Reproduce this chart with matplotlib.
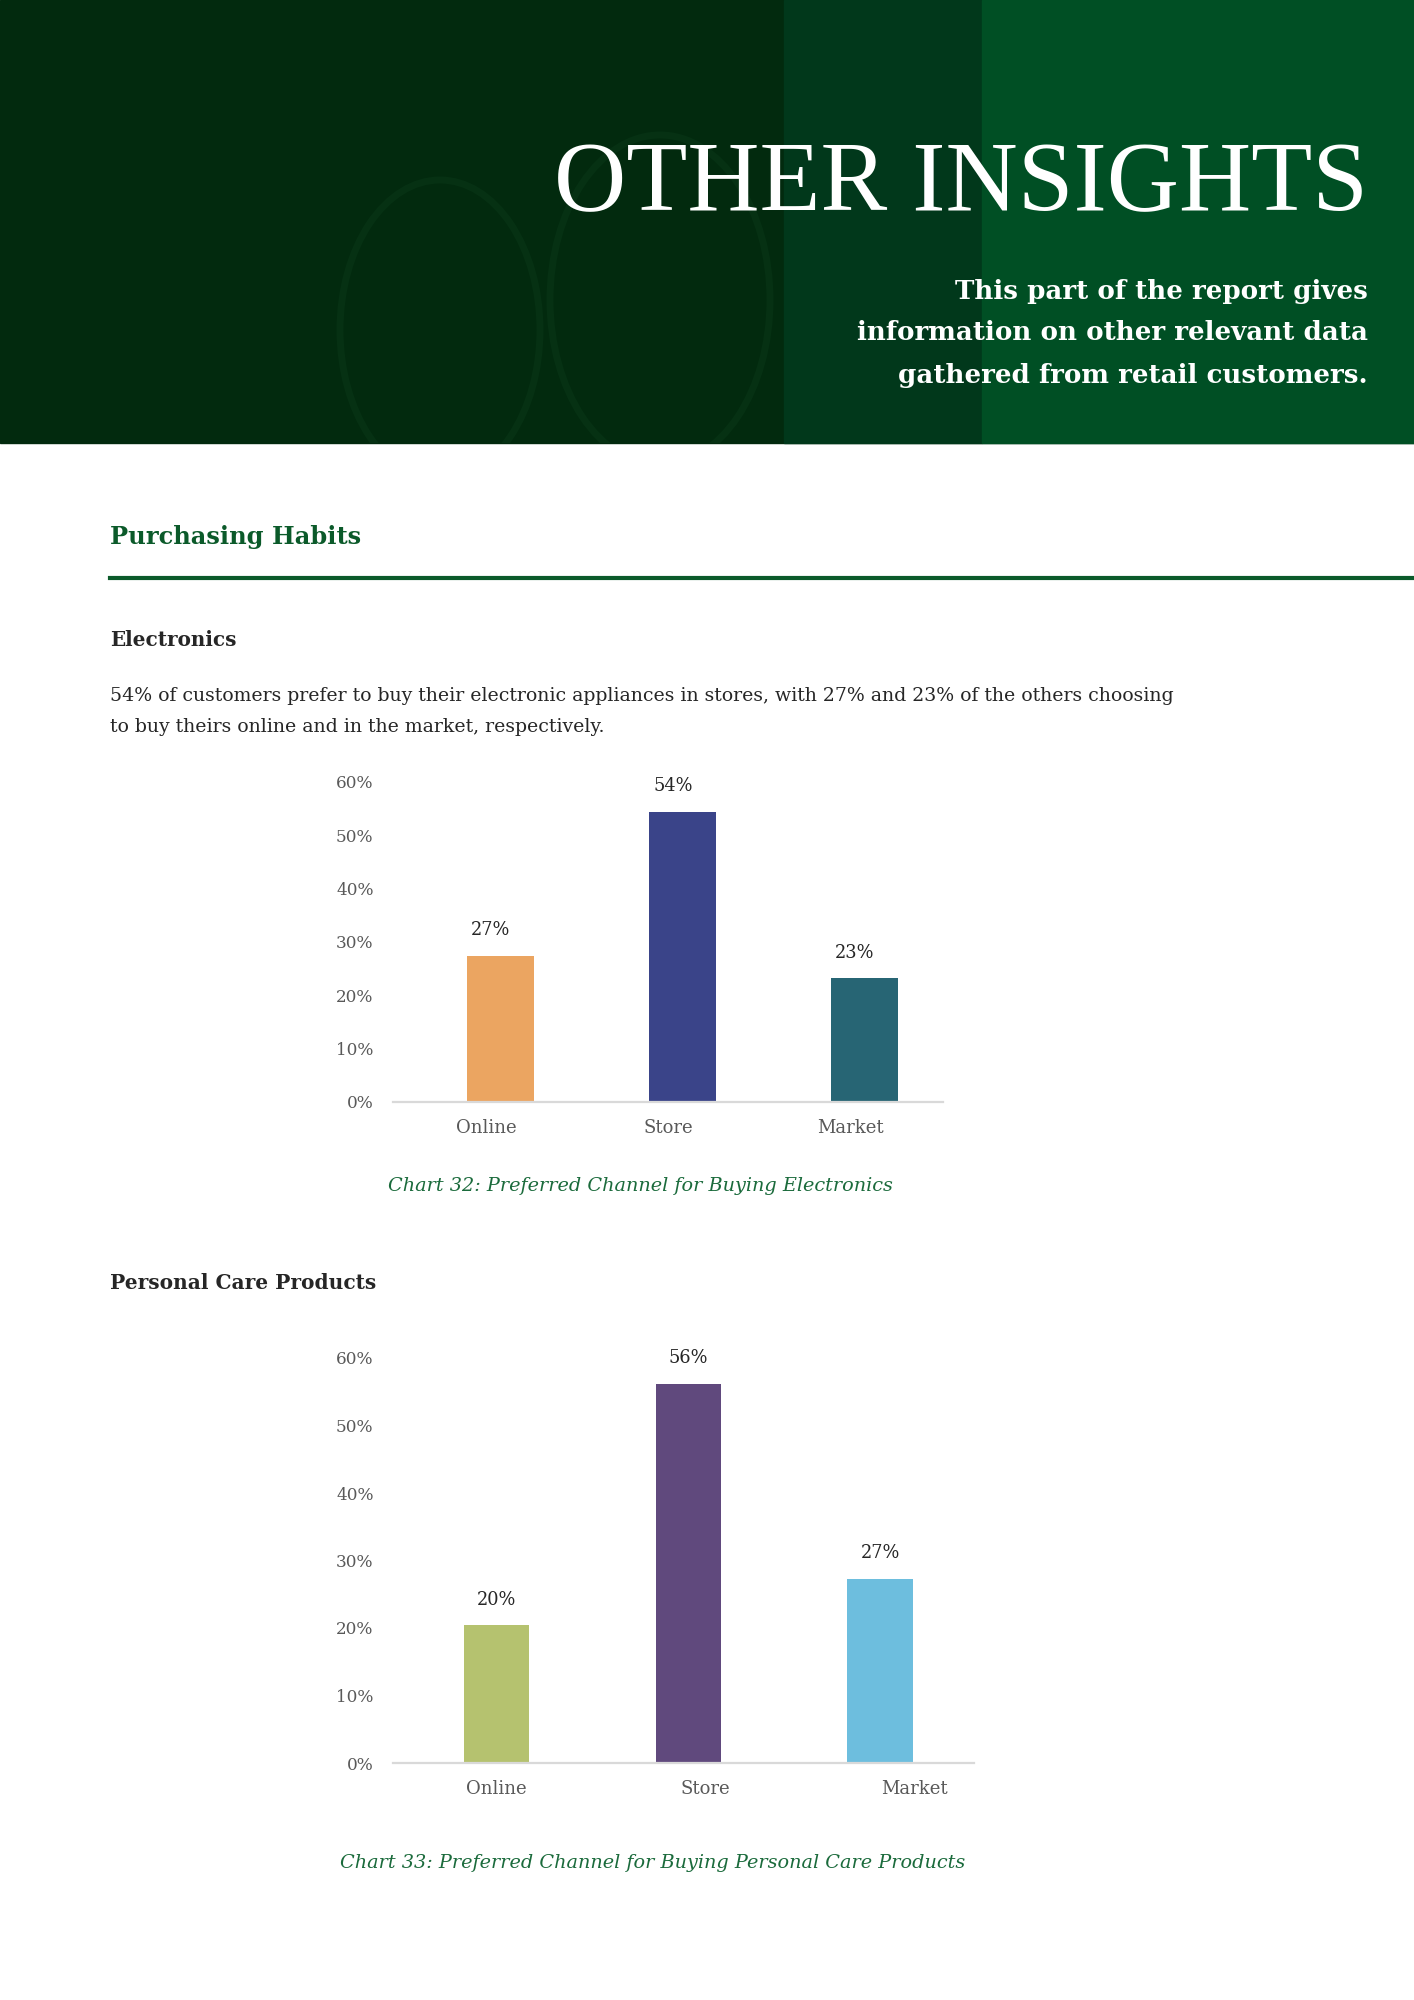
"""Report page: 'Other Insights' – preferred purchasing channels (charts 32 & 33)."""
import matplotlib
matplotlib.use("Agg")
import matplotlib.pyplot as plt
from matplotlib.patches import Rectangle, Ellipse
import numpy as np

W, H = 1414, 2000

# ---- data ----
channels = ["Online", "Store", "Market"]
electronics_pct = [27.4, 54.4, 23.2]
electronics_colors = ["#EBA561", "#3A4489", "#276574"]
personal_care_pct = [20.4, 56.2, 27.3]
personal_care_colors = ["#B5C26F", "#60497D", "#6DBEDE"]
y_ticks = [0, 10, 20, 30, 40, 50, 60]

title = "OTHER INSIGHTS"
subtitle = ["This part of the report gives",
            "information on other relevant data",
            "gathered from retail customers."]
section = "Purchasing Habits"
para = ["54% of customers prefer to buy their electronic appliances in stores, with 27% and 23% of the others choosing",
        "to buy theirs online and in the market, respectively."]
caption1 = "Chart 32: Preferred Channel for Buying Electronics"
caption2 = "Chart 33: Preferred Channel for Buying Personal Care Products"

GREEN = "#0B5A2A"
SERIF = ["DejaVu Serif"]


def fx(px):
    return px / W


def fy(py):
    return 1 - py / H


fig = plt.figure(figsize=(W / 100, H / 100), dpi=100)
fig.patch.set_facecolor("white")

# ---- header band ----
header = Rectangle((0, fy(443)), 1, 443 / H, transform=fig.transFigure,
                   color="#022A0E", zorder=0)
fig.patches.append(header)
fig.patches.append(Rectangle((fx(784), fy(443)), 198 / W, 443 / H, transform=fig.transFigure,
                             color="#01381B", zorder=1))
fig.patches.append(Rectangle((fx(982), fy(443)), 432 / W, 443 / H, transform=fig.transFigure,
                             color="#004F24", zorder=1))
# faint binocular rings in the photo
for cx, cy, w, h in [(440, 330, 200, 300), (660, 300, 220, 330)]:
    ring = Ellipse((fx(cx), fy(cy)), w / W, h / H, transform=fig.transFigure,
                   fill=False, ec="#0B3A1A", lw=5, alpha=0.45, zorder=1)
    ring.set_clip_path(header)
    fig.patches.append(ring)

fig.text(fx(1368), fy(186), title, ha="right", va="center", color="white",
         fontsize=72, family=["Liberation Serif"], zorder=5)
for i, line in enumerate(subtitle):
    fig.text(fx(1368), fy(291 + 42 * i), line, ha="right", va="center", color="white",
             fontsize=18.8, fontweight="bold", family=SERIF, zorder=5)

# ---- section heading ----
fig.text(fx(110), fy(537), section, ha="left", va="center", color=GREEN,
         fontsize=17.4, fontweight="bold", family=SERIF)
fig.lines.append(plt.Line2D([fx(110), 1], [fy(578), fy(578)], transform=fig.transFigure,
                            color=GREEN, lw=3))

fig.text(fx(110), fy(640), "Electronics", ha="left", va="center", color="#262626",
         fontsize=14.4, fontweight="bold", family=SERIF)
for i, line in enumerate(para):
    fig.text(fx(110), fy(696 + 31 * i), line, ha="left", va="center", color="#262626",
             fontsize=13.6, family=SERIF)

fig.text(fx(110), fy(1283), "Personal Care Products", ha="left", va="center",
         color="#262626", fontsize=14.5, fontweight="bold", family=SERIF)


def bar_chart(rect, values, colors, xlim, bar_w, tick_pos, label_dx):
    ax = fig.add_axes(rect)
    x = np.arange(len(channels))
    bars = ax.bar(x, values, bar_w, color=colors, zorder=2)
    for b, v in zip(bars, values):
        ax.annotate(f"{v:.0f}%", (b.get_x() + b.get_width() / 2, v),
                    xytext=(label_dx, 12), textcoords="offset points", ha="center",
                    va="bottom", fontsize=12.8, color="#262626", family=SERIF)
    ax.set_xlim(*xlim)
    ax.set_ylim(0, 60)
    ax.set_yticks(y_ticks)
    ax.set_yticklabels([f"{t}%" for t in y_ticks])
    ax.set_xticks(tick_pos)
    ax.set_xticklabels(channels)
    for s in ["top", "right", "left"]:
        ax.spines[s].set_visible(False)
    ax.spines["bottom"].set_color("#D9D9D9")
    ax.spines["bottom"].set_linewidth(1.6)
    ax.tick_params(length=0, labelcolor="#595959")
    ax.tick_params(axis="y", pad=14, labelsize=12.2)
    ax.tick_params(axis="x", pad=12, labelsize=13)
    for lab in ax.get_xticklabels() + ax.get_yticklabels():
        lab.set_family(SERIF)
    ax.set_facecolor("none")
    return ax


bar_chart([fx(393), fy(1102), 550 / W, 320 / H], electronics_pct, electronics_colors,
          (-0.59, 2.43), 0.37, [-0.08, 0.92, 1.92], -7)
fig.text(fx(640), fy(1186), caption1, ha="center", va="center", color="#1B6B3C",
         fontsize=13.9, style="italic", family=SERIF)

bar_chart([fx(393), fy(1763), 581 / W, 405 / H], personal_care_pct, personal_care_colors,
          (-0.54, 2.49), 0.34, [0.0, 1.09, 2.18], 0)
fig.text(fx(653), fy(1863), caption2, ha="center", va="center", color="#1B6B3C",
         fontsize=13.9, style="italic", family=SERIF)

fig.savefig("out.png", dpi=100)
